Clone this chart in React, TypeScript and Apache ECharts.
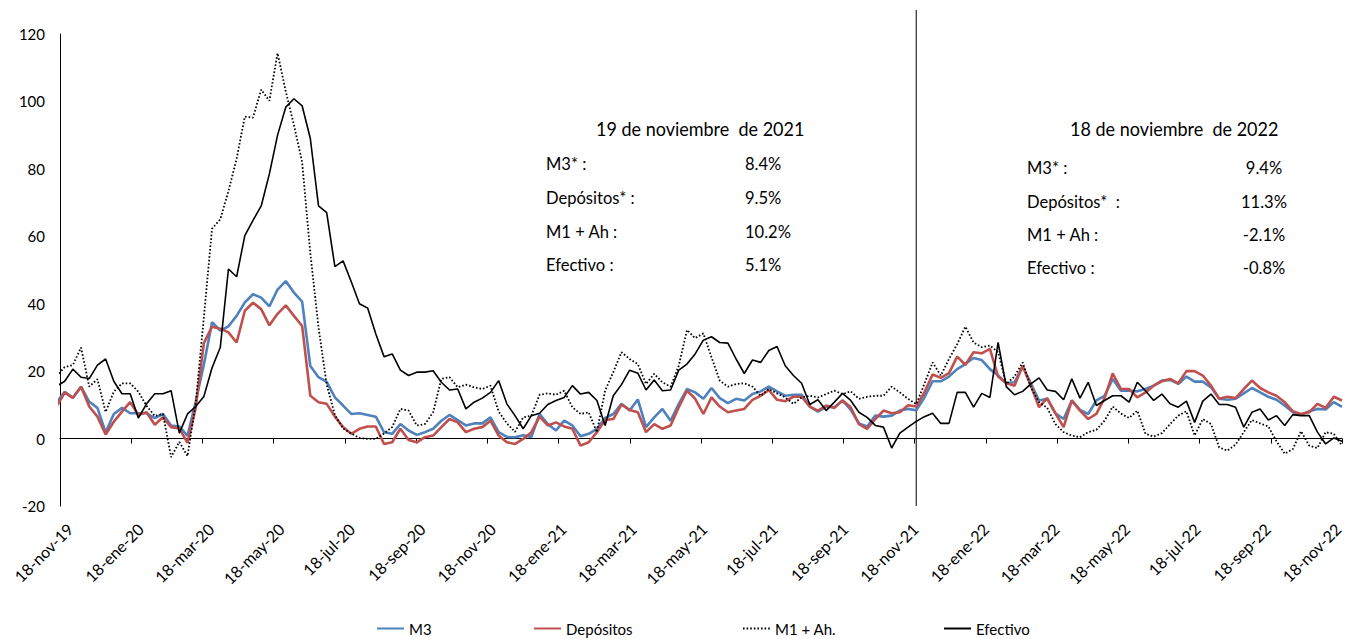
import React, { useEffect, useRef } from "react";
import * as echarts from "echarts";

// Tick labels of the date axis (every two months)
const tickLabels = [
  "18-nov-19", "18-ene-20", "18-mar-20", "18-may-20", "18-jul-20", "18-sep-20",
  "18-nov-20", "18-ene-21", "18-mar-21", "18-may-21", "18-jul-21", "18-sep-21",
  "18-nov-21", "18-ene-22", "18-mar-22", "18-may-22", "18-jul-22", "18-sep-22",
  "18-nov-22",
];

// Weekly observations (Fridays), first one 15-nov-19, last one 18-nov-22
const m3 = [
  10.7, 13.9, 12.1, 15.4, 10.9, 9.1, 1.8, 7.3, 9.1, 7.5,
  7.5, 7.5, 6.1, 7.3, 3.9, 3.6, 0.8, 10.9, 22.0, 34.5,
  32.0, 33.3, 36.4, 40.4, 42.8, 41.8, 39.2, 44.2, 46.7, 43.3,
  40.6, 21.5, 18.2, 16.8, 12.2, 9.8, 7.3, 7.5, 7.0, 6.5,
  1.9, 1.4, 4.3, 2.4, 1.1, 1.9, 2.9, 5.3, 7.0, 5.5,
  3.9, 4.5, 4.5, 6.3, 1.9, 0.5, 0.4, 1.0, 0.5, 7.3,
  4.3, 2.4, 5.3, 3.9, 0.7, 1.4, 2.9, 6.1, 7.3, 10.3,
  8.3, 11.6, 3.4, 6.3, 8.8, 5.3, 10.3, 14.7, 13.7, 11.8,
  15.0, 12.0, 10.5, 11.8, 11.3, 13.2, 14.0, 15.4, 14.0, 12.7,
  13.0, 13.0, 9.5, 8.0, 9.5, 9.3, 11.3, 8.5, 4.5, 3.6,
  6.8, 6.5, 6.8, 8.3, 8.8, 8.4, 12.2, 17.0, 17.0, 18.4,
  20.6, 22.1, 23.9, 23.3, 20.6, 18.7, 16.4, 16.7, 21.3, 16.4,
  11.3, 11.8, 7.5, 5.8, 11.3, 8.5, 7.3, 11.3, 12.7, 17.7,
  14.2, 14.2, 14.0, 14.7, 15.7, 17.2, 17.4, 16.2, 18.4, 16.9,
  16.9, 15.2, 11.8, 11.5, 11.8, 13.4, 15.0, 13.7, 12.4, 11.5,
  9.8, 7.8, 7.1, 8.1, 8.8, 8.6, 10.8, 9.4,
];

const depositos = [
  9.5, 13.6, 12.1, 15.4, 9.5, 6.5, 1.2, 5.0, 8.0, 10.8,
  7.0, 7.8, 4.1, 6.3, 3.4, 3.0, -1.3, 9.1, 28.3, 33.2,
  32.6, 31.5, 28.5, 37.9, 40.3, 38.4, 33.6, 37.0, 39.5, 36.4,
  33.4, 12.7, 10.8, 10.3, 6.5, 3.4, 1.4, 2.9, 3.6, 3.6,
  -1.6, -1.1, 2.9, -0.4, -1.1, 0.4, 0.9, 3.4, 5.8, 4.8,
  1.9, 2.9, 3.4, 5.3, 0.9, -1.1, -1.6, -0.1, 1.9, 6.5,
  3.9, 4.8, 3.6, 2.9, -2.1, -1.1, 1.9, 5.5, 5.8, 10.1,
  8.5, 7.8, 1.9, 4.3, 2.9, 3.9, 9.3, 14.2, 11.8, 7.3,
  12.2, 9.5, 7.8, 8.3, 8.8, 11.5, 12.7, 14.4, 11.5, 11.1,
  12.4, 12.4, 9.5, 8.3, 9.8, 9.1, 11.3, 9.3, 4.3, 2.9,
  5.8, 8.3, 7.5, 7.8, 9.9, 9.5, 13.7, 19.0, 18.0, 19.4,
  24.3, 21.9, 25.6, 25.3, 26.6, 18.4, 16.4, 15.7, 21.6, 15.7,
  9.3, 12.0, 7.5, 3.4, 11.3, 8.3, 5.8, 7.3, 12.0, 19.3,
  14.7, 14.7, 12.2, 13.7, 15.7, 17.0, 17.7, 16.4, 20.0, 20.0,
  18.7, 15.7, 11.8, 12.4, 12.0, 14.7, 17.2, 15.0, 13.7, 12.7,
  10.8, 8.1, 7.3, 7.8, 10.3, 9.1, 12.4, 11.3,
];

const m1Ah = [
  18.5, 21.2, 21.8, 27.0, 15.4, 17.6, 7.9, 13.9, 16.4, 16.4,
  13.9, 9.7, 6.7, 7.3, -5.5, -1.0, -5.2, 10.3, 36.0, 62.3,
  65.0, 73.4, 83.0, 95.5, 95.2, 103.5, 100.2, 114.3, 103.0, 93.0,
  82.0, 55.0, 33.0, 16.0, 7.0, 3.0, 1.5, 0.2, -0.1, -0.1,
  1.5, 3.4, 8.8, 8.3, 3.9, 4.3, 7.8, 17.7, 18.2, 15.2,
  16.0, 15.2, 14.7, 15.7, 8.0, 4.5, 2.0, 6.3, 6.8, 13.0,
  13.4, 13.0, 14.2, 9.3, 7.3, 7.8, 1.9, 14.2, 19.7, 25.6,
  23.6, 22.1, 16.2, 19.2, 16.7, 15.4, 21.6, 32.2, 29.8, 31.2,
  24.1, 17.2, 15.4, 16.2, 16.4, 15.4, 12.7, 14.7, 13.4, 12.2,
  10.3, 12.2, 12.7, 12.2, 13.2, 14.2, 13.2, 14.0, 11.8, 12.4,
  12.7, 12.7, 15.4, 13.7, 11.8, 10.2, 16.2, 22.6, 18.7, 23.6,
  28.0, 33.2, 28.5, 27.1, 27.6, 25.6, 16.2, 18.4, 22.6, 15.2,
  10.8, 9.1, 4.3, 1.9, 0.9, 0.4, 1.9, 2.6, 5.3, 9.5,
  7.4, 6.1, 8.3, 1.4, 0.6, 1.6, 4.3, 6.8, 8.1, 0.9,
  5.8, 4.3, -2.6, -3.6, -1.8, 1.9, 5.5, 4.5, 3.6, -0.8,
  -4.5, -3.1, 2.2, -2.1, -2.8, 1.9, 1.4, -2.1,
];

const efectivo = [
  15.5, 17.0, 20.6, 18.2, 17.8, 21.8, 23.6, 17.0, 13.3, 13.3,
  6.1, 10.3, 13.3, 13.3, 14.2, 1.6, 7.3, 9.5, 12.5, 21.0,
  27.0, 50.3, 48.0, 60.2, 64.7, 69.0, 78.5, 90.0, 98.3, 100.8,
  98.7, 89.0, 69.0, 67.0, 51.0, 52.7, 46.5, 40.0, 38.7, 31.0,
  24.3, 25.1, 20.3, 18.7, 19.7, 19.7, 20.1, 16.7, 14.4, 14.7,
  8.8, 10.8, 12.0, 13.7, 17.2, 10.3, 6.8, 2.9, 6.8, 7.5,
  10.1, 11.3, 12.2, 15.7, 13.2, 13.7, 11.3, 3.9, 12.7, 16.0,
  20.3, 19.4, 14.4, 17.4, 14.2, 14.4, 20.3, 22.1, 25.1, 29.2,
  30.2, 28.5, 28.3, 23.6, 19.3, 23.3, 22.6, 26.1, 27.3, 21.6,
  18.7, 16.4, 10.1, 11.5, 8.3, 10.8, 13.4, 11.3, 7.8, 6.3,
  3.9, 3.4, -2.8, 1.6, 3.4, 5.1, 6.5, 7.5, 4.5, 4.5,
  13.7, 13.7, 9.3, 13.4, 12.2, 28.5, 15.4, 13.0, 14.0, 16.2,
  18.0, 14.4, 14.0, 11.5, 17.7, 12.0, 16.7, 9.8, 11.3, 12.7,
  12.7, 10.8, 16.7, 14.2, 11.3, 13.2, 10.3, 9.3, 11.1, 4.8,
  11.1, 13.2, 10.1, 10.1, 9.3, 3.4, 7.8, 8.8, 5.5, 6.8,
  3.9, 7.1, 6.8, 6.8, 1.9, -1.6, 0.2, -0.8,
];

const seriesNames = ["M3", "Depósitos", "M1 + Ah.", "Efectivo"];

const box2021Title = "19 de noviembre  de 2021";
const box2022Title = "18 de noviembre  de 2022";
const boxLabels2021 = ["M3* :", "Depósitos* :", "M1 + Ah :", "Efectivo :"];
const boxLabels2022 = ["M3* :", "Depósitos*  :", "M1 + Ah :", "Efectivo :"];
const boxValues2021 = ["8.4%", "9.5%", "10.2%", "5.1%"];
const boxValues2022 = ["9.4%", "11.3%", "-2.1%", "-0.8%"];

// date geometry: axis runs 18-nov-19 .. 18-nov-22 (1096 days), 18 label steps
const firstObsDay = -3; // 15-nov-19 relative to 18-nov-19
const totalDays = 1096;
const daysPerStep = totalDays / 18;
const markerObs = 105; // 19-nov-21 observation

const FONT = "Lato, 'Noto Sans', sans-serif";

const toXY = (arr: number[]) =>
  arr.map((v, i) => [(firstObsDay + 7 * i) / daysPerStep, v]);

export default function App() {
  const ref = useRef<HTMLDivElement>(null);

  useEffect(() => {
    document.body.style.margin = "0";
    const chart = echarts.init(ref.current!, null, { renderer: "svg" });

    const legendLefts = [376, 533, 742, 943];
    const option: any = {
      animation: false,
      backgroundColor: "#ffffff",
      grid: [
        {
          left: 60,
          right: 4,
          top: 34,
          bottom: 133,
          containLabel: false,
          outerBoundsMode: "none",
        },
        {
          left: 70,
          right: 8,
          top: 34,
          bottom: 133,
          containLabel: false,
          outerBoundsMode: "none",
        },
      ],
      xAxis: [
        {
          type: "value",
          gridIndex: 0,
          min: 0,
          max: 18,
          interval: 1,
          axisLine: { show: true, onZero: true, lineStyle: { color: "#000", width: 1 } },
          axisTick: { show: true, length: 5, lineStyle: { color: "#000" } },
          axisLabel: { show: false },
          splitLine: { show: false },
        },
        {
          type: "value",
          gridIndex: 1,
          min: 0,
          max: 18,
          interval: 1,
          position: "bottom",
          axisLine: { show: false, onZero: false },
          axisTick: { show: false },
          splitLine: { show: false },
          axisLabel: {
            show: true,
            rotate: 45,
            margin: 20,
            color: "#000",
            fontFamily: FONT,
            fontSize: 16,
            formatter: (v: number) => tickLabels[Math.round(v)] ?? "",
          },
        },
      ],
      yAxis: [
        {
          type: "value",
          gridIndex: 0,
          min: -20,
          max: 120,
          interval: 20,
          axisLine: { show: true, onZero: false, lineStyle: { color: "#000", width: 1 } },
          axisTick: { show: false },
          splitLine: { show: false },
          axisLabel: { color: "#000", fontFamily: FONT, fontSize: 15, margin: 15 },
        },
        {
          type: "value",
          gridIndex: 1,
          min: -20,
          max: 120,
          interval: 20,
          show: false,
        },
      ],
      legend: seriesNames.map((n, i) => ({
        data: [n],
        left: legendLefts[i],
        top: 621,
        itemWidth: 27,
        itemHeight: 12,
        padding: 0,
        itemStyle: { opacity: 0 },
        textStyle: { color: "#000", fontFamily: FONT, fontSize: 15 },
      })),
      series: [
        {
          name: seriesNames[0],
          type: "line",
          symbol: "none",
          data: toXY(m3),
          lineStyle: { color: "#4F81BD", width: 2.6 },
          itemStyle: { color: "#4F81BD" },
          z: 2,
        },
        {
          name: seriesNames[1],
          type: "line",
          symbol: "none",
          data: toXY(depositos),
          lineStyle: { color: "#C0504D", width: 2.6 },
          itemStyle: { color: "#C0504D" },
          z: 3,
        },
        {
          name: seriesNames[2],
          type: "line",
          symbol: "none",
          data: toXY(m1Ah),
          lineStyle: { color: "#000", width: 1.8, type: [1.6, 2] },
          itemStyle: { color: "#000" },
          z: 4,
        },
        {
          name: seriesNames[3],
          type: "line",
          symbol: "none",
          data: toXY(efectivo),
          lineStyle: { color: "#000", width: 1.6 },
          itemStyle: { color: "#000" },
          z: 5,
        },
      ],
    };
    chart.setOption(option);

    const markerX = chart.convertToPixel(
      { xAxisIndex: 0 },
      (firstObsDay + 7 * markerObs) / daysPerStep
    ) as number;
    const bottomY = chart.convertToPixel({ yAxisIndex: 0 }, -20) as number;

    const txt = (
      text: string,
      x: number,
      y: number,
      size: number,
      sx: number,
      align = "left"
    ) => ({
      type: "text",
      x,
      y,
      scaleX: sx,
      z: 10,
      style: {
        text,
        font: `${size}px ${FONT}`,
        fill: "#000",
        textAlign: align,
        textVerticalAlign: "middle",
        align,
        verticalAlign: "middle",
      },
    });

    const rows2021 = [163, 197, 231, 264];
    const rows2022 = [167, 201, 234, 267];
    const graphics: any[] = [
      {
        type: "line",
        z: 1,
        shape: { x1: markerX, y1: 10, x2: markerX, y2: bottomY },
        style: { stroke: "#000", lineWidth: 1 },
      },
      txt(box2021Title, 596, 128, 20, 0.9),
      txt(box2022Title, 1070, 128, 20, 0.9),
    ];
    boxLabels2021.forEach((t, i) => graphics.push(txt(t, 546, rows2021[i], 18, 0.92)));
    boxValues2021.forEach((t, i) => graphics.push(txt(t, 745, rows2021[i], 18, 0.92)));
    boxLabels2022.forEach((t, i) => graphics.push(txt(t, 1027, rows2022[i], 18, 0.92)));
    boxValues2022.forEach((t, i) =>
      graphics.push(txt(t, 1264, rows2022[i], 18, 0.92, "center"))
    );

    chart.setOption({ graphic: graphics });

    return () => chart.dispose();
  }, []);

  return (
    <div
      ref={ref}
      style={{ position: "absolute", left: 0, top: 0, width: 1346, height: 639 }}
    />
  );
}
